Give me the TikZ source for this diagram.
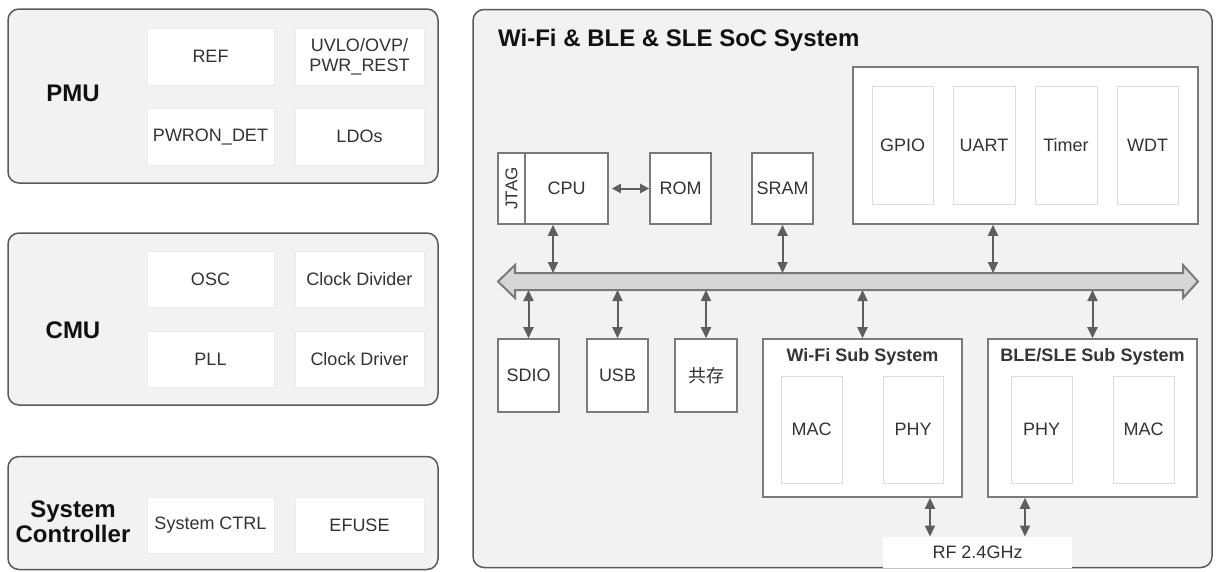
\documentclass[tikz,border=0pt]{standalone}
\usepackage{fontspec}
\setmainfont{Liberation Sans}
\newfontfamily\cjk{Noto Sans CJK SC}
\usetikzlibrary{arrows.meta,calc}
\definecolor{panelfill}{HTML}{F2F2F2}
\definecolor{panelline}{HTML}{5A5A5A}
\definecolor{boxline}{HTML}{7A7A7A}
\definecolor{lightline}{HTML}{DCDCDC}
\definecolor{faintline}{HTML}{EBEBEB}
\definecolor{txt}{HTML}{333333}
\definecolor{lbltxt}{HTML}{111111}
\definecolor{arrowc}{HTML}{5E5E5E}
\definecolor{busfill}{HTML}{D6D6D6}
\begin{document}
\begin{tikzpicture}[x=1pt,y=-1pt,
  sz/.style 2 args={minimum width=#1pt, minimum height=#2pt},
  panel/.style={draw=panelline, fill=panelfill, line width=1.5pt, rounded corners=11pt, inner sep=0pt},
  fbox/.style={draw=faintline, fill=white, line width=1pt, inner sep=0pt, text=txt, font=\fontsize{18}{20}\selectfont, align=center},
  lbox/.style={draw=lightline, fill=white, line width=1pt, inner sep=0pt, text=txt, font=\fontsize{18}{20}\selectfont},
  gbox/.style={draw=boxline, fill=white, line width=1.6pt, inner sep=0pt, text=txt, font=\fontsize{18}{20}\selectfont},
  lbl/.style={text=lbltxt, font=\fontsize{24}{25}\selectfont\bfseries, align=center, inner sep=0pt},
  sublbl/.style={text=lbltxt!85, font=\fontsize{18}{20}\selectfont\bfseries, inner sep=0pt},
  bi/.style={{Triangle[length=11pt,width=10pt]}-{Triangle[length=11pt,width=10pt]}, line width=2pt, draw=arrowc, fill=arrowc},
  bis/.style={{Triangle[length=9pt,width=9pt]}-{Triangle[length=9pt,width=9pt]}, line width=2pt, draw=arrowc, fill=arrowc}
]
\useasboundingbox (0,0) rectangle (1220,571);

% ---------- PMU ----------
\node[panel, sz={430}{174}] (pmu) at (223,96) {};
\node[lbl] (pmul) at (73,93) {PMU};
\node[fbox, sz={127}{57}] (ref) at (210.5,56.5) {REF};
\node[fbox, sz={129}{57}] (uvlo) at (359.5,56.5) {UVLO/OVP/\\PWR\_REST};
\node[fbox, sz={127}{57}] (pwron) at (210.5,136.5) {PWRON\_DET};
\node[fbox, sz={129}{57}] (ldo) at (359.5,136.5) {LDOs};

% ---------- CMU ----------
\node[panel, sz={430}{172}] (cmu) at (223,319) {};
\node[lbl] (cmul) at (73,330) {CMU};
\node[fbox, sz={127}{56}] (osc) at (210.5,279.5) {OSC};
\node[fbox, sz={129}{56}] (cdiv) at (359.5,279.5) {Clock Divider};
\node[fbox, sz={127}{56}] (pll) at (210.5,359.5) {PLL};
\node[fbox, sz={129}{56}] (cdrv) at (359.5,359.5) {Clock Driver};

% ---------- System Controller ----------
\node[panel, sz={430}{113}] (sysc) at (223,513) {};
\node[lbl] (syscl) at (73,522) {System\\Controller};
\node[fbox, sz={127}{56}] (sctrl) at (210.5,525) {System CTRL};
\node[fbox, sz={129}{56}] (efuse) at (359.5,525) {EFUSE};

% ---------- SoC ----------
\node[panel, sz={739}{558}] (soc) at (842.5,288.5) {};
\node[lbl, anchor=west] (socl) at (498,40) {Wi-Fi \& BLE \& SLE SoC System};

\node[gbox, rotate=90, sz={71}{27}, font=\fontsize{17}{18}\selectfont] (jtag) at (511.5,188.5) {JTAG};
\node[gbox, sz={83}{71}] (cpu) at (566.5,188.5) {CPU};
\node[gbox, sz={61}{71}] (rom) at (680.5,188.5) {ROM};
\node[gbox, sz={61}{71}] (sram) at (782.5,188.5) {SRAM};

\node[gbox, sz={345}{157}] (periph) at (1025.5,145.5) {};
\node[lbox, sz={61}{118}] (gpio) at (902.5,145) {GPIO};
\node[lbox, sz={62}{118}] (uart) at (984,145) {UART};
\node[lbox, sz={62}{118}] (timer) at (1066,145) {Timer};
\node[lbox, sz={61}{118}] (wdt) at (1147.5,145) {WDT};

% bus
\coordinate (bt) at (0,273);
\coordinate (bb) at (0,290);
\draw[draw=boxline, fill=busfill, line width=2pt, line join=miter]
  (498,281.5) -- (515,265) -- (515,273) -- (1183,273) -- (1183,265) -- (1198,281.5)
  -- (1183,298) -- (1183,290) -- (515,290) -- (515,298) -- cycle;

% lower blocks
\node[gbox, sz={61}{73}] (sdio) at (528.5,375.5) {SDIO};
\node[gbox, sz={61}{73}] (usb) at (617.5,375.5) {USB};
\node[gbox, sz={62}{73}] (coex) at (706,375.5) {\cjk 共存};

\node[gbox, sz={199}{158}] (wifi) at (862.5,418) {};
\node[sublbl] (wifil) at (862.5,357) {Wi-Fi Sub System};
\node[lbox, sz={61}{107}] (wmac) at (811.5,429.5) {MAC};
\node[lbox, sz={60}{107}] (wphy) at (913,429.5) {PHY};

\node[gbox, sz={209}{158}] (ble) at (1092.5,418) {};
\node[sublbl] (blel) at (1092.5,357) {BLE/SLE Sub System};
\node[lbox, sz={61}{107}] (bphy) at (1041.5,429.5) {PHY};
\node[lbox, sz={61}{107}] (bmac) at (1143.5,429.5) {MAC};

\node[fbox, draw=none, sz={189}{31}] (rf) at (977.5,552.5) {RF 2.4GHz};

% connectors
\coordinate (cpuc) at ($(cpu.south)+(-13.5,0)$);
\coordinate (perc) at ($(periph.south)+(-32.5,0)$);
\coordinate (rfa) at (930,0);
\coordinate (rfb) at (1025,0);
\draw[bis, shorten <=3pt] (cpu.east) -- (rom.west);
\draw[bi] (cpuc) -- (cpuc |- bt);
\draw[bi] (sram.south) -- (sram.south |- bt);
\draw[bi] (perc) -- (perc |- bt);
\draw[bi] (sdio.north |- bb) -- (sdio.north);
\draw[bi] (usb.north |- bb) -- (usb.north);
\draw[bi] (coex.north |- bb) -- (coex.north);
\draw[bi] (wifi.north |- bb) -- (wifi.north);
\draw[bi] (ble.north |- bb) -- (ble.north);
\draw[bi] (wifi.south -| rfa) -- (rf.north -| rfa);
\draw[bi] (ble.south -| rfb) -- (rf.north -| rfb);
\end{tikzpicture}
\end{document}
